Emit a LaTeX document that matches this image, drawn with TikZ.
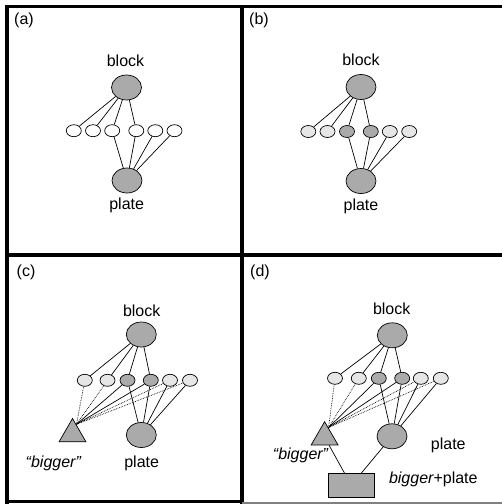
\documentclass[tikz,border=0pt]{standalone}
\usepackage{fontspec}
\setmainfont{Liberation Sans}
\usetikzlibrary{shapes.geometric,calc}
\definecolor{nodegray}{HTML}{AAAAAA}
\definecolor{featlight}{HTML}{E6E6E6}
\begin{document}
\begin{tikzpicture}[x=1pt,y=-1pt,
  big/.style={ellipse,draw,fill=nodegray,minimum width=30pt,minimum height=25pt,inner sep=0pt,line width=0.7pt},
  feat/.style={ellipse,draw,fill=white,minimum width=15pt,minimum height=12pt,inner sep=0pt,line width=0.7pt},
  featl/.style={feat,fill=featlight},
  featd/.style={feat,fill=nodegray},
  tri/.style={regular polygon,regular polygon sides=3,draw,fill=nodegray,minimum size=31pt,inner sep=0pt,line width=0.7pt},
  boxnode/.style={rectangle,draw,fill=nodegray,minimum width=46pt,minimum height=23.5pt,inner sep=0pt,line width=0.7pt},
  conn/.style={line width=0.7pt},
  dconn/.style={line width=0.7pt,densely dotted},
  lbl/.style={font=\fontsize{16}{19}\selectfont,inner sep=0pt},
  border/.style={line width=3.5pt}]
\useasboundingbox (0,0) rectangle (502,504);
\fill[white] (0,0) rectangle (502,504);

% borders
\draw[border] (7,504) -- (7,6.5) -- (502,6.5);
\draw[border] (242,6.5) -- (242,504);
\draw[border] (7,255) -- (502,255);
\draw[border] (5.25,501.7) -- (242,501.7);
\draw[gray,line width=1.2pt] (242,503) -- (502,503);

% ---------- panel (a)
\node[lbl] (a-lab) at (24,20.5) {(a)};
\node[lbl] (a-bt) at (125.5,60.5) {block};
\node[big] (a-b) at (126.5,87.5) {};
\node[feat] (a1) at (73.8,130.7) {};
\node[feat] (a2) at (93,130.7) {};
\node[feat] (a3) at (112.2,130.7) {};
\node[feat] (a4) at (136.3,130.7) {};
\node[feat] (a5) at (155.3,130.7) {};
\node[feat] (a6) at (174.5,130.7) {};
\node[big] (a-p) at (127,180.5) {};
\node[lbl] (a-pt) at (126.7,205) {plate};
\foreach \i in {1,2,3,4} \draw[conn] (a-b) -- (a\i);
\foreach \i in {3,4,5,6} \draw[conn] (a-p) -- (a\i);

% ---------- panel (b)
\node[lbl] (b-lab) at (259,20.5) {(b)};
\node[lbl] (b-bt) at (361,60) {block};
\node[big] (b-b) at (361,87) {};
\node[featl] (b1) at (308.3,131.5) {};
\node[featl] (b2) at (327.5,131.5) {};
\node[featd] (b3) at (347,131.5) {};
\node[featd] (b4) at (370.8,131.5) {};
\node[featl] (b5) at (389.8,131.5) {};
\node[featl] (b6) at (409.2,131.5) {};
\node[big] (b-p) at (361,181) {};
\node[lbl] (b-pt) at (361,206.3) {plate};
\foreach \i in {1,2,3,4} \draw[conn] (b-b) -- (b\i);
\foreach \i in {3,4,5,6} \draw[conn] (b-p) -- (b\i);

% ---------- panel (c)
\node[lbl] (c-lab) at (26,272) {(c)};
\node[lbl] (c-bt) at (141.7,310.3) {block};
\node[big] (c-b) at (141.3,334.5) {};
\node[featl] (c1) at (84.8,380.3) {};
\node[featl] (c2) at (107.5,380.3) {};
\node[featd] (c3) at (127.5,380.3) {};
\node[featd] (c4) at (150.8,380.3) {};
\node[featl] (c5) at (170,380.3) {};
\node[featl] (c6) at (190,380.3) {};
\node[big] (c-p) at (141.3,435) {};
\node[lbl] (c-pt) at (141.7,463.3) {plate};
\node[tri] (c-t) at (72.5,434) {};
\coordinate (c-tc) at ($(c-t.corner 1)+(4,6.5)$);
\node[lbl] (c-tt) at (53.3,463.5) {\itshape “bigger”};
\foreach \i in {1,2,3,4} \draw[conn] (c-b) -- (c\i);
\foreach \i in {3,4,5,6} \draw[conn] (c-p) -- (c\i);
\foreach \i in {1,2,5,6} \draw[dconn] (c-tc) -- (c\i);
\foreach \i in {3,4} \draw[conn] (c-tc) -- (c\i);

% ---------- panel (d)
\node[lbl] (d-lab) at (260,272) {(d)};
\node[lbl] (d-bt) at (391.7,308.5) {block};
\node[big] (d-b) at (392.3,335.3) {};
\node[featl] (d1) at (335,378.3) {};
\node[featl] (d2) at (358.8,378.3) {};
\node[featd] (d3) at (378.8,378.3) {};
\node[featd] (d4) at (402.2,378.3) {};
\node[featl] (d5) at (420.8,378.3) {};
\node[featl] (d6) at (440.8,378.3) {};
\node[big] (d-p) at (392,436.3) {};
\node[lbl] (d-pt) at (448.3,445) {plate};
\node[tri] (d-t) at (324.6,437.2) {};
\coordinate (d-tc) at ($(d-t.corner 1)+(4,6.5)$);
\node[lbl] (d-tt) at (300.5,455.5) {\itshape “bigger”};
\node[boxnode] (d-r) at (351.2,485.2) {};
\node[lbl] (d-rt) at (433.3,479.3) {{\itshape bigger}+plate};
\foreach \i in {1,2,3,4} \draw[conn] (d-b) -- (d\i);
\foreach \i in {3,4,5,6} \draw[conn] (d-p) -- (d\i);
\foreach \i in {1,2,5,6} \draw[dconn] (d-tc) -- (d\i);
\foreach \i in {3,4} \draw[conn] (d-tc) -- (d\i);
\draw[conn] (d-t) -- (d-r);
\draw[conn] (d-p) -- (d-r);
\end{tikzpicture}
\end{document}
